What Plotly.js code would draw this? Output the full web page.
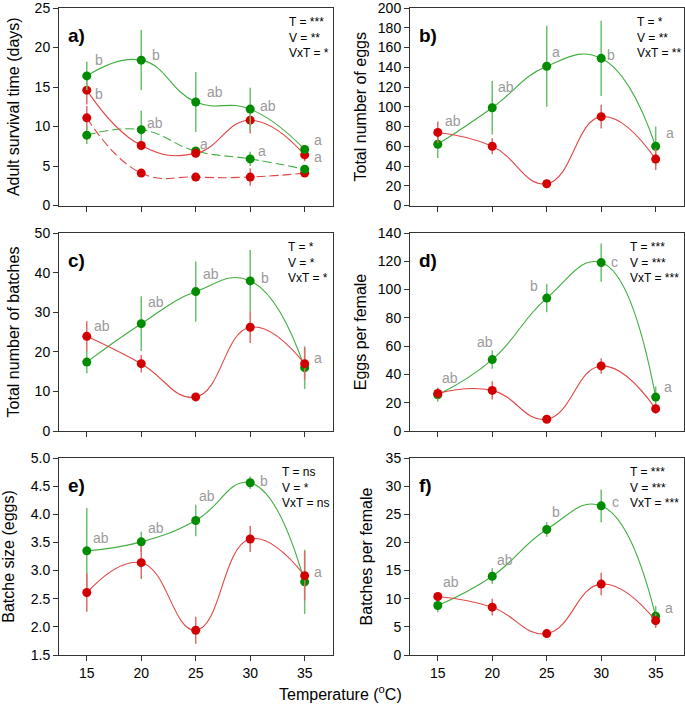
<!DOCTYPE html>
<html>
<head>
<meta charset="utf-8">
<script src="https://cdn.plot.ly/plotly-3.0.1.min.js"></script>
<style>html,body{margin:0;padding:0;background:#fff}#chart{width:685px;height:711px}</style>
</head>
<body>
<div id="chart"></div>
<script>
// ---------- DATA ----------
const temps = [15, 20, 25, 30, 35];

// a) Adult survival time (days)
const aGreenSolid = [16.4, 18.4, 13.1, 12.2, 7.1];
const aGreenSolidErr = [1.8, 3.8, 3.8, 2.7, 0.4];
const aRedSolid = [14.6, 7.6, 6.6, 10.8, 6.4];
const aRedSolidErr = [1.8, 0.6, 0.5, 1.7, 0.8];
const aGreenDash = [8.9, 9.6, 6.9, 5.9, 4.6];
const aGreenDashErr = [1.1, 2.4, 0.3, 0.9, 0.3];
const aRedDash = [11.1, 4.1, 3.6, 3.6, 4.1];
const aRedDashErr = [1.5, 0.3, 0.3, 1.1, 0.4];
const aLettersTop = ['b', 'b', 'ab', 'ab', 'a'];
const aLettersLow = ['b', 'ab', 'a', 'a', 'a'];
const aStats = ['T = ***', 'V = **', 'VxT = *'];

// b) Total number of eggs
const bGreen = [62, 99, 141, 149, 60];
const bGreenErr = [14, 27, 41, 38, 20];
const bRed = [74, 60, 22, 90, 47];
const bRedErr = [11, 8, 3, 12, 11];
const bLetters = ['ab', 'ab', 'a', 'b', 'a'];
const bStats = ['T = *', 'V = **', 'VxT = **'];

// c) Total number of batches
const cGreen = [17.4, 27.1, 35.2, 37.9, 16.0];
const cGreenErr = [2.8, 6.9, 7.6, 7.8, 5.4];
const cRed = [23.9, 17.0, 8.6, 26.2, 17.0];
const cRedErr = [3.8, 2.2, 0.6, 4.0, 4.0];
const cLetters = ['ab', 'ab', 'ab', 'b', 'a'];
const cStats = ['T = *', 'V = *', 'VxT = *'];

// d) Eggs per female
const dGreen = [25.6, 50.5, 94.0, 119.1, 24.0];
const dGreenErr = [5, 6.5, 10, 13.5, 7.5];
const dRed = [26.6, 28.7, 8.3, 46.0, 15.7];
const dRedErr = [4, 6.5, 1, 5.5, 3.5];
const dLetters = ['ab', 'ab', 'b', 'c', 'a'];
const dStats = ['T = ***', 'V = ***', 'VxT = ***'];

// e) Batche size (eggs)
const eGreen = [3.35, 3.51, 3.89, 4.56, 2.80];
const eGreenErr = [0.76, 0.18, 0.28, 0.11, 0.57];
const eRed = [2.61, 3.14, 1.94, 3.56, 2.91];
const eRedErr = [0.34, 0.29, 0.24, 0.23, 0.44];
const eLetters = ['ab', 'ab', 'ab', 'b', 'a'];
const eStats = ['T = ns', 'V = *', 'VxT = ns'];

// f) Batches per female
const fGreen = [8.8, 14.0, 22.3, 26.5, 6.9];
const fGreenErr = [1.2, 1.4, 1.3, 2.9, 1.8];
const fRed = [10.4, 8.5, 3.8, 12.6, 6.1];
const fRedErr = [0.5, 1.5, 0.4, 2.0, 1.3];
const fLetters = ['ab', 'ab', 'b', 'c', 'a'];
const fStats = ['T = ***', 'V = ***', 'VxT = ***'];

const panelLabels = ['a)', 'b)', 'c)', 'd)', 'e)', 'f)'];
const yTitles = ['Adult survival time (days)', 'Total number of eggs', 'Total number of batches',
                 'Eggs per female', 'Batche size (eggs)', 'Batches per female'];
const xTitle = 'Temperature (<sup>o</sup>C)';

// ---------- STYLE ----------
const FONT = 'Liberation Sans, Arial, Helvetica, sans-serif';
const GREEN_M = '#008c00', GREEN_L = '#3fae3f', GREEN_E = '#6cc06c';
const RED_M = '#d20000', RED_L = '#e04646', RED_E = '#e06a6a';
const LETTER_C = '#9a9a9a';

function series(ax, y, err, color, lineColor, errColor, dash) {
  return {
    x: temps, y: y, xaxis: 'x' + ax, yaxis: 'y' + ax,
    type: 'scatter', mode: 'lines+markers',
    line: {shape: 'spline', smoothing: 1.3, color: lineColor, width: 1.1, dash: dash || 'solid'},
    marker: {color: color, size: 9},
    error_y: {type: 'data', array: err, visible: true, color: errColor, thickness: 1.5, width: 0},
    showlegend: false, hoverinfo: 'x+y'
  };
}
const G = (ax, y, e, d) => series(ax, y, e, GREEN_M, GREEN_L, GREEN_E, d);
const R = (ax, y, e, d) => series(ax, y, e, RED_M, RED_L, RED_E, d);

const DASH = '9px,4px';
const traces = [
  R('', aRedDash, aRedDashErr, DASH), G('', aGreenDash, aGreenDashErr, DASH),
  R('', aRedSolid, aRedSolidErr), G('', aGreenSolid, aGreenSolidErr),
  G('2', bGreen, bGreenErr), R('2', bRed, bRedErr),
  G('3', cGreen, cGreenErr), R('3', cRed, cRedErr),
  G('4', dGreen, dGreenErr), R('4', dRed, dRedErr),
  G('5', eGreen, eGreenErr), R('5', eRed, eRedErr),
  G('6', fGreen, fGreenErr), R('6', fRed, fRedErr)
];

// ---------- LAYOUT ----------
const W = 685, H = 711;
const colX = [[59 / W, 333 / W], [410 / W, 684 / W]];
const rowY = [[1 - 205.5 / H, 1 - 8 / H], [1 - 431 / H, 1 - 233 / H], [1 - 655 / H, 1 - 458 / H]];
const yRanges = [[0, 25], [0, 200], [0, 50], [0, 140], [1.5, 5.0], [0, 35]];
const yDticks = [5, 20, 10, 20, 0.5, 5];
const yStandoff = [11, 7, 11, 7, 12, 9];

const layout = {
  width: W, height: H,
  margin: {l: 0, r: 0, t: 0, b: 0},
  paper_bgcolor: '#fff', plot_bgcolor: '#fff',
  font: {family: FONT, size: 14, color: '#000'},
  annotations: []
};

for (let i = 0; i < 6; i++) {
  const col = i % 2, row = Math.floor(i / 2);
  const sfx = i === 0 ? '' : String(i + 1);
  layout['xaxis' + sfx] = {
    domain: colX[col], anchor: 'y' + sfx, range: [12.45, 37.6],
    tickmode: 'array', tickvals: temps, ticktext: temps.map(String),
    showticklabels: row === 2, ticks: 'outside', ticklen: 5, tickwidth: 1, tickcolor: '#333',
    showline: true, linecolor: '#333', linewidth: 1, mirror: true,
    showgrid: false, zeroline: false, fixedrange: true, ticklabeloverflow: 'allow',
    tickfont: {size: 14, family: FONT}
  };
  layout['yaxis' + sfx] = {
    domain: rowY[row], anchor: 'x' + sfx, range: yRanges[i], dtick: yDticks[i],
    tickformat: i === 4 ? '.1f' : 'd',
    ticks: 'outside', ticklen: 5, tickwidth: 1, tickcolor: '#333',
    showline: true, linecolor: '#333', linewidth: 1, mirror: true,
    showgrid: false, zeroline: false, fixedrange: true, ticklabeloverflow: 'allow',
    tickfont: {size: 14, family: FONT},
    title: {text: yTitles[i], font: {size: 16, family: FONT}, standoff: yStandoff[i]}
  };
  // panel label
  layout.annotations.push({
    xref: 'x' + sfx + ' domain', yref: 'y' + sfx + ' domain', x: 0.025, y: 1 - 27 / 197,
    xanchor: 'left', yanchor: 'middle', showarrow: false,
    text: '<b>' + panelLabels[i] + '</b>', font: {size: 19, family: FONT}
  });
}

// statistics text blocks
const statsAll = [aStats, bStats, cStats, dStats, eStats, fStats];
const statsX = [0.832, 0.82, 0.83, 0.797, 0.808, 0.797];
statsAll.forEach((s, i) => {
  const sfx = i === 0 ? '' : String(i + 1);
  layout.annotations.push({
    xref: 'x' + sfx + ' domain', yref: 'y' + sfx + ' domain', x: statsX[i], y: 1 - 5 / 197,
    xanchor: 'left', yanchor: 'top', align: 'left', showarrow: false,
    text: s.join('<br>'), font: {size: 12, family: FONT}
  });
});

// significance letters
function addLetters(sfx, letters, anchors, offs) {
  letters.forEach((t, k) => {
    const o = offs[k];
    layout.annotations.push({
      xref: 'x' + sfx, yref: 'y' + sfx, x: temps[k], y: anchors[k][k],
      xanchor: o[2] || 'left', yanchor: 'middle', showarrow: false,
      xshift: o[0], yshift: o[1], text: t, font: {size: 14, color: LETTER_C, family: FONT}
    });
  });
}
const GS = aGreenSolid;
addLetters('', aLettersTop, [GS, GS, GS, GS, GS], [[6, 16], [9, 5], [9, 10], [8, 3], [7, 9]]);
addLetters('', aLettersLow, [aRedSolid, aGreenDash, aGreenDash, aGreenDash, aRedSolid],
           [[6, -4], [4, 7], [2, 7], [6, 8], [7, -2]]);
addLetters('2', bLetters, [bRed, bGreen, bGreen, bGreen, bGreen], [[5, 11], [4, 21], [3, 14], [4, 3], [8, 13]]);
addLetters('3', cLetters, [cRed, cGreen, cGreen, cGreen, cRed], [[5, 10], [5, 22], [5, 18], [9, 3], [7, 6]]);
addLetters('4', dLetters, [dGreen, dGreen, dGreen, dGreen, dGreen],
           [[2, 17], [-7, 18, 'center'], [-13, 12, 'center'], [8, 1], [6, 10]]);
addLetters('5', eLetters, [eGreen, eGreen, eGreen, eGreen, eRed], [[4, 13], [5, 14], [1, 24], [8, 2], [7, 4]]);
addLetters('6', fLetters, [fRed, fGreen, fGreen, fGreen, fGreen], [[3, 14], [3, 16], [3, 17], [9, 4], [7, 8]]);

// common x-axis title
layout.annotations.push({
  xref: 'paper', yref: 'paper', x: 340 / W, y: 1 - 693 / H, xanchor: 'center', yanchor: 'middle',
  showarrow: false, text: xTitle, font: {size: 16, family: FONT}
});

Plotly.newPlot('chart', traces, layout, {displayModeBar: false, staticPlot: true});
</script>
</body>
</html>
